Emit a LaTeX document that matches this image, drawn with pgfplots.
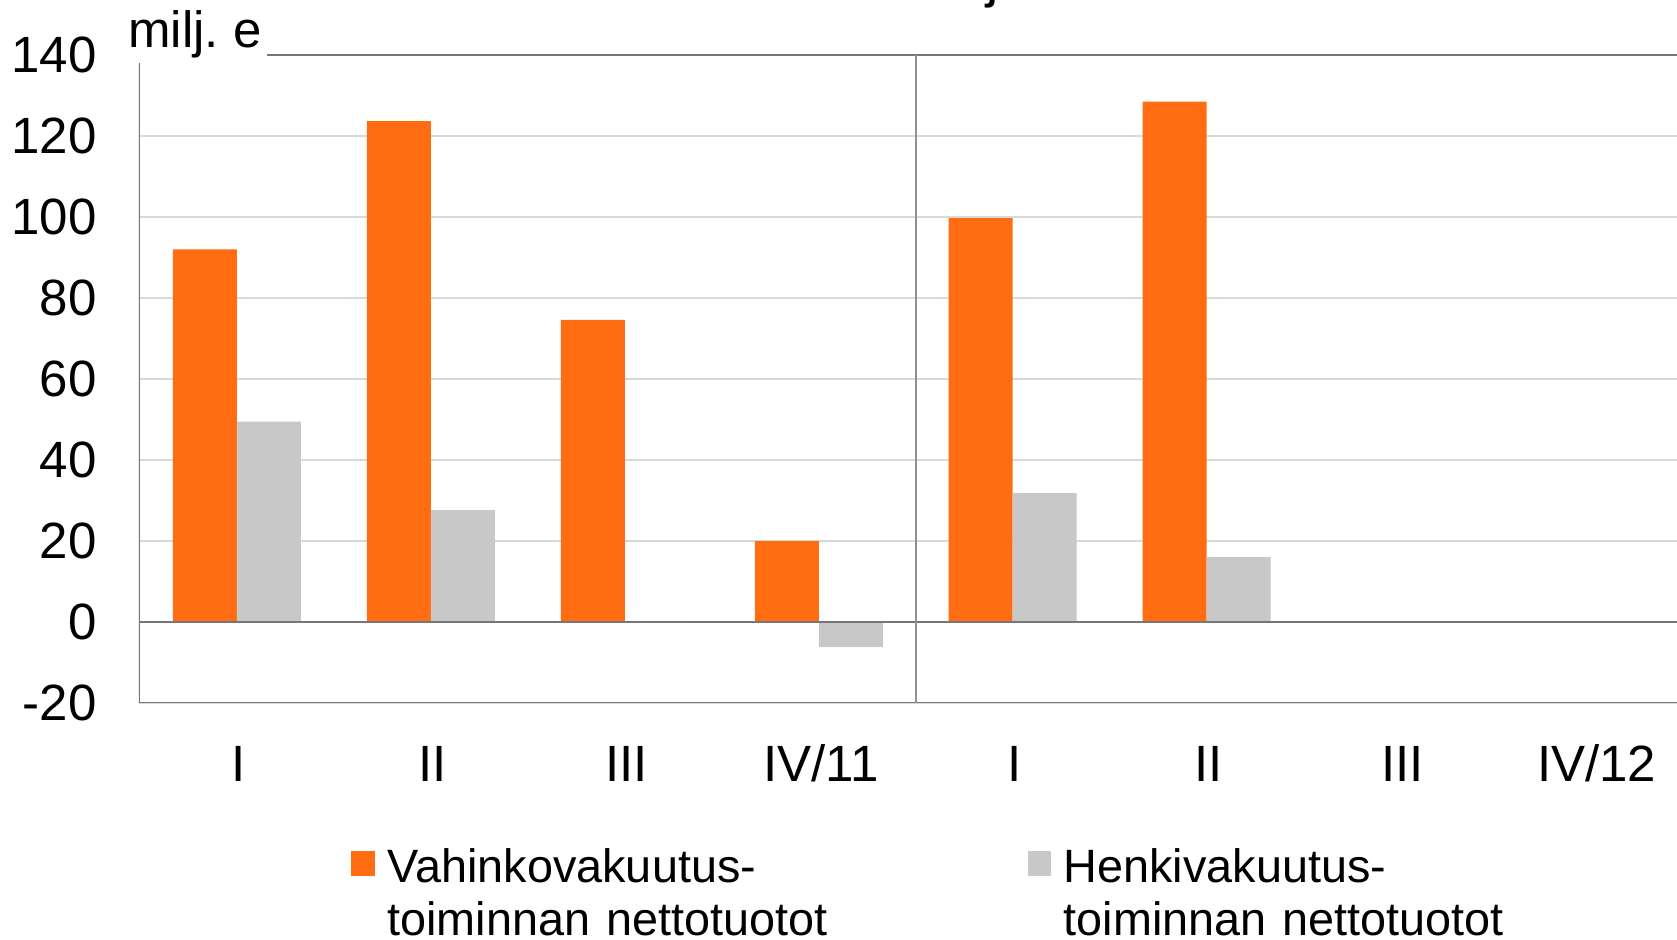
\documentclass[border=0pt]{standalone}
\usepackage{pgfplots}
\pgfplotsset{compat=1.18}
\usepackage{fontspec}
\setmainfont{Liberation Sans}
\definecolor{orangebar}{RGB}{255,108,18}
\definecolor{graybar}{RGB}{200,200,200}
\definecolor{gridgray}{RGB}{217,217,217}
\definecolor{linegray}{RGB}{118,118,118}
\begin{document}
\frenchspacing
\begin{tikzpicture}
\path[use as bounding box, clip] (-69.5pt,-118.5pt) rectangle (769pt,351.5pt);
\begin{axis}[
  at={(0pt,0pt)}, anchor=south west,
  scale only axis,
  width=769pt, height=324pt,
  xmin=-0.505, xmax=7.425,
  ymin=-20, ymax=140,
  ybar=0pt, bar width=32pt,
  axis line style={draw=none},
  major tick length=0pt,
  xtick={0,...,7},
  xticklabels={I,II,III,IV/11,I,II,III,IV/12},
  ytick={-20,0,20,40,60,80,100,120,140},
  yticklabels={-20,0,20,40,60,80,100,120,140},
  ymajorgrids,
  grid style={color=gridgray, line width=0.75pt},
  xticklabel style={anchor=base, inner sep=0pt, yshift=-39.5pt, xshift=1pt, font=\fontsize{25.5}{30}\selectfont},
  yticklabel style={anchor=east, inner sep=0pt, xshift=-21pt, font=\fontsize{25.5}{30}\selectfont},
  legend columns=2,
  legend image code/.code={\fill[#1,draw=none] (0pt,-4.35pt) rectangle (11.8pt,8.15pt);},
  legend style={at={(axis description cs:0.1378,-0.2241)}, anchor=north west,
    draw=none, fill=none, inner sep=0pt, column sep=0pt,
    /tikz/every odd column/.style={column sep=6.3pt},
    nodes={inner sep=0pt, text width=320pt, align=left, font=\fontsize{23.4}{26.5}\selectfont}},
  legend cell align=left,
]
\addplot[fill=orangebar, draw=none] coordinates {(0,92.0) (1,123.7) (2,74.6) (3,19.95) (4,99.7) (5,128.5)};
\addlegendentry{Vahinkovakuutus-\\toiminnan nettotuotot}
\addplot[fill=graybar, draw=none] coordinates {(0,49.5) (1,27.6) (2,0.3) (3,-6.2) (4,31.8) (5,16.0)};
\addlegendentry{Henkivakuutus-\\toiminnan nettotuotot}
\draw[linegray, line width=1pt] (axis cs:-0.505,0) -- (axis cs:7.425,0);
\draw[linegray, line width=1pt] (axis cs:-0.505,-20) -- (axis cs:7.425,-20);
\draw[linegray, line width=1pt] (axis cs:-0.505,140) -- (axis cs:7.425,140);
\draw[linegray, line width=1pt] (axis cs:-0.505,-20) -- (axis cs:-0.505,140);
\draw[linegray!80, line width=0.75pt] (axis cs:3.5,-20) -- (axis cs:3.5,140);
\end{axis}
\node[anchor=base west, fill=white, inner xsep=2.5pt, inner ysep=2pt, font=\fontsize{25.5}{30}\selectfont] at (-8pt,327.5pt) {milj. e};
\node[anchor=base, font=\fontsize{28}{32}\selectfont] at (427pt,353pt) {j};
\end{tikzpicture}
\end{document}
